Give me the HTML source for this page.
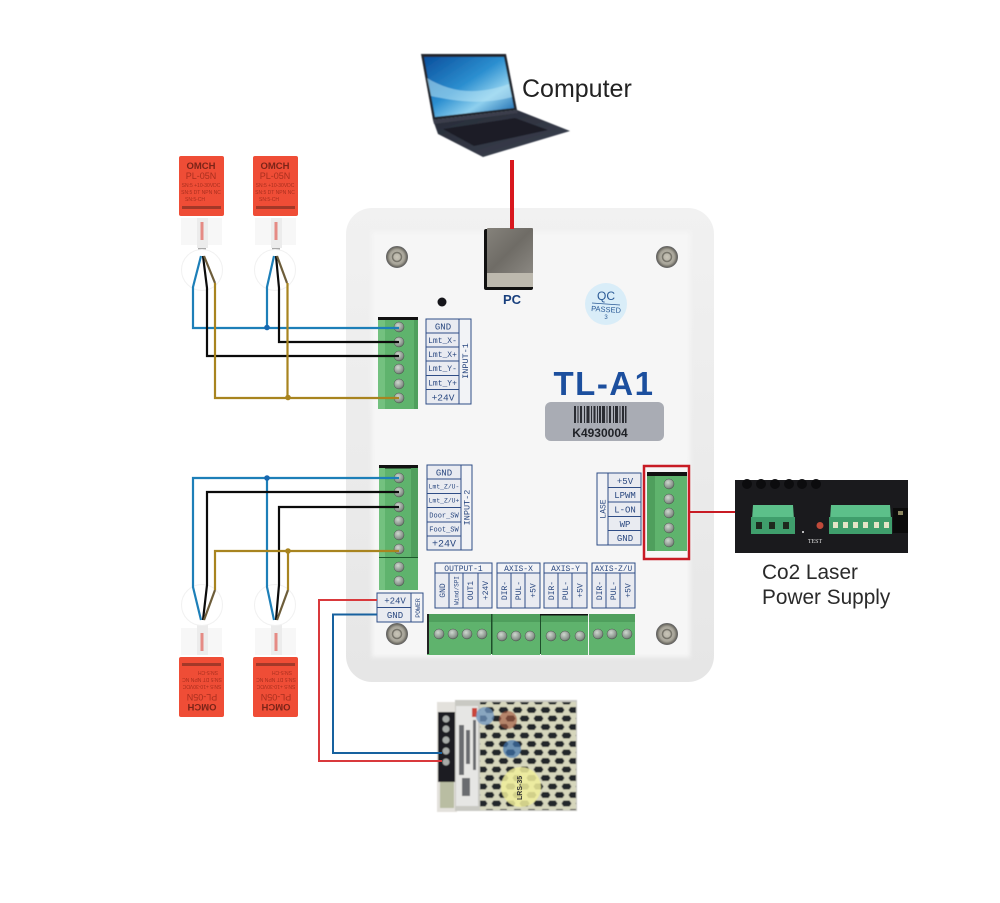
<!DOCTYPE html>
<html><head><meta charset="utf-8"><style>
html,body{margin:0;padding:0;background:#fff}
svg{display:block}
text{font-family:"Liberation Sans",sans-serif}
.m{font-family:"Liberation Mono",monospace;fill:#2a4880;font-size:8px;text-anchor:middle}
.s{font-size:6.400px}
.cell{fill:#e9ebf1;stroke:#2f4d86;stroke-width:1}
.hd{fill:#f2f3f6}
.sn{fill:#a82f1e;text-anchor:middle}
</style></head><body>
<svg width="1000" height="903" viewBox="0 0 1000 903" xmlns="http://www.w3.org/2000/svg">
<defs>
<linearGradient id="scr" x1="0" y1="0" x2="1" y2="1"><stop offset="0" stop-color="#0a4f9c"/><stop offset=".45" stop-color="#2c8fd0"/><stop offset=".7" stop-color="#8fd0ee"/><stop offset="1" stop-color="#0e5fa8"/></linearGradient>
<linearGradient id="base" x1="0" y1="0" x2="1" y2="1"><stop offset="0" stop-color="#262a36"/><stop offset="1" stop-color="#3d4250"/></linearGradient>
<linearGradient id="brd" x1="0" y1="0" x2="0" y2="1"><stop offset="0" stop-color="#f1f1f1"/><stop offset="1" stop-color="#e6e6e6"/></linearGradient>
<linearGradient id="usb" x1="0" y1="0" x2="1" y2="1"><stop offset="0" stop-color="#85827b"/><stop offset=".5" stop-color="#6f6c66"/><stop offset="1" stop-color="#8b8882"/></linearGradient>
<pattern id="hex" width="14" height="17" patternUnits="userSpaceOnUse">
<rect width="14" height="17" fill="#d6d6bc"/>
<path d="M3.500 1.500h6l2 3-2 3h-6l-2-3z" fill="#23262a"/>
<path d="M10.500 10h6l2 3-2 3h-6l-2-3z" fill="#23262a"/>
<path d="M-3.500 10h6l2 3-2 3h-6l-2-3z" fill="#23262a"/>
</pattern>
<radialGradient id="sc" cx=".4" cy=".35" r=".75"><stop offset="0" stop-color="#cfd8cf"/><stop offset=".7" stop-color="#87928a"/><stop offset="1" stop-color="#4c564f"/></radialGradient>
<radialGradient id="bolt" cx=".5" cy=".5" r=".5"><stop offset="0" stop-color="#c9c5b8"/><stop offset=".7" stop-color="#a7a499"/><stop offset="1" stop-color="#5f5d55"/></radialGradient>
<filter id="soft"><feGaussianBlur stdDeviation=".4"/></filter>
<filter id="b2" x="-5%" y="-5%" width="110%" height="110%"><feGaussianBlur stdDeviation="2"/></filter>
</defs>

<!-- Laptop -->
<g filter="url(#soft)">
<polygon points="433,120 517,110 570,131 483,157 438,134" fill="url(#base)"/>
<polygon points="443,129 515,118 548,130 474,146" fill="#1b1e26"/>
<polygon points="421,54 506,54 517,110 433,120" fill="#23262f"/>
<polygon points="424,57 504,57 514,108 435,117" fill="url(#scr)"/>
<path d="M427,78 C450,92 475,96 509,84 L512,97 C480,106 450,100 431,96z" fill="#b9e6f6" opacity=".55"/>
<path d="M433,120 L517,110 L518,113 L434,124z" fill="#3a3e4b"/>
</g>
<text x="522" y="97" font-size="25" fill="#222">Computer</text>

<!-- Board -->
<rect x="346" y="208" width="368" height="474" rx="26" fill="url(#brd)"/>
<rect x="372" y="232" width="318" height="425" fill="#f6f6f6" filter="url(#b2)"/>

<!-- USB -->
<rect x="484" y="229" width="49" height="61" rx="2" fill="#111"/>
<rect x="487" y="228" width="46" height="46" rx="1" fill="url(#usb)"/>
<rect x="487" y="273" width="46" height="14" fill="#bdb9ae"/>
<rect x="510" y="160" width="4" height="69" fill="#d8171e"/>
<text x="512" y="304" font-size="13" font-weight="bold" text-anchor="middle" fill="#183f7d">PC</text>
<circle cx="442" cy="302" r="4.500" fill="#15151a"/>

<!-- QC -->
<circle cx="606" cy="304" r="21" fill="#d9edf8"/>
<text x="606" y="300" font-size="12" text-anchor="middle" fill="#2a5a96">QC</text>
<line x1="592" y1="303" x2="620" y2="305" stroke="#2a5a96" stroke-width=".8"/>
<text x="606" y="312" font-size="7.500" text-anchor="middle" fill="#2a5a96" transform="rotate(4 606 310)">PASSED</text>
<text x="606" y="319" font-size="6" text-anchor="middle" fill="#2a5a96">3</text>

<!-- Bolts -->
<g stroke="#666"><circle cx="397" cy="257" r="10.500" fill="url(#bolt)"/><circle cx="667" cy="257" r="10.500" fill="url(#bolt)"/><circle cx="397" cy="634" r="10.500" fill="url(#bolt)"/><circle cx="667" cy="634" r="10.500" fill="url(#bolt)"/></g>
<g fill="none" stroke="#77756b" stroke-width="1.500"><circle cx="397" cy="257" r="4.500"/><circle cx="667" cy="257" r="4.500"/><circle cx="397" cy="634" r="4.500"/><circle cx="667" cy="634" r="4.500"/></g>

<!-- TL-A1 -->
<text x="604" y="395" font-size="33" font-weight="bold" text-anchor="middle" fill="#1c4f9e" letter-spacing="1.500">TL-A1</text>
<rect x="545" y="402" width="119" height="39" rx="6" fill="#a9acb4"/>
<g fill="#2a2c32"><rect x="574" y="406" width="2" height="17"/><rect x="577.500" y="406" width="1" height="17"/><rect x="580" y="406" width="2" height="17"/><rect x="584" y="406" width="1" height="17"/><rect x="586.500" y="406" width="3" height="17"/><rect x="591" y="406" width="1" height="17"/><rect x="593.500" y="406" width="2" height="17"/><rect x="597" y="406" width="1" height="17"/><rect x="599" y="406" width="2" height="17"/><rect x="602" y="406" width="3" height="17"/><rect x="606.500" y="406" width="1" height="17"/><rect x="609" y="406" width="2" height="17"/><rect x="613" y="406" width="1" height="17"/><rect x="615" y="406" width="3" height="17"/><rect x="619.500" y="406" width="1" height="17"/><rect x="622" y="406" width="2" height="17"/><rect x="625" y="406" width="1.500" height="17"/></g>
<text x="600" y="437" font-size="12" font-weight="bold" text-anchor="middle" fill="#1f2126">K4930004</text>

<!-- Block 1 -->
<rect x="378" y="317" width="40" height="92" fill="#5fb36d"/>
<rect x="378" y="317" width="40" height="3" fill="#111"/>
<rect x="378" y="320" width="7" height="89" fill="#73c17f"/>
<rect x="414" y="320" width="4" height="89" fill="#4f9f5d"/>
<g fill="url(#sc)" stroke="#4a544c" stroke-width=".5"><circle cx="399" cy="327" r="5"/><circle cx="399" cy="342" r="5"/><circle cx="399" cy="356" r="5"/><circle cx="399" cy="369" r="5"/><circle cx="399" cy="384" r="5"/><circle cx="399" cy="398" r="5"/></g>

<!-- Input-1 table -->
<g>
<rect class="cell" x="426" y="319" width="33" height="14"/><rect class="cell" x="426" y="333" width="33" height="14"/><rect class="cell" x="426" y="347" width="33" height="14"/><rect class="cell" x="426" y="361" width="33" height="14.500"/><rect class="cell" x="426" y="375.500" width="33" height="14"/><rect class="cell" x="426" y="389.500" width="33" height="14.500"/><rect class="cell hd" x="459" y="319" width="12" height="85"/>
<text class="m" x="443" y="329.500" style="font-size:9px">GND</text><text class="m" x="442.500" y="343">Lmt_X-</text><text class="m" x="442.500" y="357">Lmt_X+</text><text class="m" x="442.500" y="371">Lmt_Y-</text><text class="m" x="442.500" y="385.500">Lmt_Y+</text><text class="m" x="443" y="400.500" style="font-size:9.500px">+24V</text>
<text class="m" transform="translate(468,361) rotate(-90)" style="font-size:8.500px">INPUT-1</text>
</g>

<!-- Block 2 -->
<rect x="379" y="465" width="39" height="125" fill="#5fb36d"/>
<rect x="379" y="465" width="39" height="3.500" fill="#111"/>
<rect x="379" y="468" width="6" height="122" fill="#73c17f"/>
<rect x="411" y="468" width="7" height="90" fill="#4f9f5d"/>
<rect x="379" y="557" width="39" height="1" fill="#1d5a2c"/>
<g fill="url(#sc)" stroke="#4a544c" stroke-width=".5"><circle cx="399" cy="478" r="5"/><circle cx="399" cy="492" r="5"/><circle cx="399" cy="507" r="5"/><circle cx="399" cy="521" r="5"/><circle cx="399" cy="535" r="5"/><circle cx="399" cy="549" r="5"/><circle cx="399" cy="567" r="5"/><circle cx="399" cy="581" r="5"/></g>

<!-- Input-2 table -->
<g>
<rect class="cell" x="427" y="465" width="34" height="14"/><rect class="cell" x="427" y="479" width="34" height="14.500"/><rect class="cell" x="427" y="493.500" width="34" height="14"/><rect class="cell" x="427" y="507.500" width="34" height="14.500"/><rect class="cell" x="427" y="522" width="34" height="14"/><rect class="cell" x="427" y="536" width="34" height="14"/><rect class="cell hd" x="461" y="465" width="11" height="85"/>
<text class="m" x="444" y="475.500" style="font-size:9px">GND</text><text class="m s" x="444" y="488.500">Lmt_Z/U-</text><text class="m s" x="444" y="502.500">Lmt_Z/U+</text><text class="m" x="444" y="517.500" style="font-size:7px">Door_SW</text><text class="m" x="444" y="531.500" style="font-size:7px">Foot_SW</text><text class="m" x="444" y="546.500" style="font-size:10px">+24V</text>
<text class="m" transform="translate(469.500,507.500) rotate(-90)" style="font-size:8.500px">INPUT-2</text>
</g>

<!-- Power table -->
<g>
<rect class="cell" x="377" y="593" width="34" height="14.500"/><rect class="cell" x="377" y="607.500" width="34" height="14.500"/><rect class="cell hd" x="411" y="593" width="12" height="29"/>
<text class="m" x="395" y="603.500" style="font-size:9px">+24V</text><text class="m" x="395" y="618" style="font-size:9px">GND</text>
<text class="m" transform="translate(420,608) rotate(-90)" style="font-size:6.500px">POWER</text>
</g>

<!-- LASE table -->
<g>
<rect class="cell hd" x="597" y="473" width="11" height="72"/>
<rect class="cell" x="608" y="473" width="33" height="14.500"/><rect class="cell" x="608" y="487.500" width="33" height="14.500"/><rect class="cell" x="608" y="502" width="33" height="14.500"/><rect class="cell" x="608" y="516.500" width="33" height="14"/><rect class="cell" x="608" y="530.500" width="33" height="14.500"/>
<text class="m" x="625" y="484" style="font-size:9px">+5V</text><text class="m" x="625" y="498" style="font-size:9px">LPWM</text><text class="m" x="625" y="512.500" style="font-size:9px">L-ON</text><text class="m" x="625" y="527" style="font-size:9px">WP</text><text class="m" x="625" y="541" style="font-size:9px">GND</text>
<text class="m" transform="translate(605.500,509) rotate(-90)">LASE</text>
</g>

<!-- Laser block + red box -->
<rect x="647" y="472" width="40" height="79" fill="#5fb36d"/>
<rect x="647" y="472" width="40" height="4" fill="#111"/>
<rect x="647" y="476" width="8" height="75" fill="#4f9f5d"/>
<g fill="url(#sc)" stroke="#4a544c" stroke-width=".5"><circle cx="669" cy="484" r="5"/><circle cx="669" cy="499" r="5"/><circle cx="669" cy="513" r="5"/><circle cx="669" cy="528" r="5"/><circle cx="669" cy="542" r="5"/></g>
<rect x="644" y="466" width="45" height="93" fill="none" stroke="#c81b24" stroke-width="2.500"/>
<rect x="689" y="511" width="46" height="2" fill="#c81b24"/>

<!-- Output tables -->
<g>
<rect class="cell hd" x="435" y="563" width="57" height="10"/><rect class="cell hd" x="497" y="563" width="43" height="10"/><rect class="cell hd" x="544" y="563" width="43" height="10"/><rect class="cell hd" x="592" y="563" width="43" height="10"/>
<rect class="cell" x="435" y="573" width="14" height="35"/><rect class="cell" x="449" y="573" width="14" height="35"/><rect class="cell" x="463" y="573" width="15" height="35"/><rect class="cell" x="478" y="573" width="14" height="35"/>
<rect class="cell" x="497" y="573" width="14" height="35"/><rect class="cell" x="511" y="573" width="14" height="35"/><rect class="cell" x="525" y="573" width="15" height="35"/>
<rect class="cell" x="544" y="573" width="14" height="35"/><rect class="cell" x="558" y="573" width="14" height="35"/><rect class="cell" x="572" y="573" width="15" height="35"/>
<rect class="cell" x="592" y="573" width="14" height="35"/><rect class="cell" x="606" y="573" width="14" height="35"/><rect class="cell" x="620" y="573" width="15" height="35"/>
<text class="m" x="463.500" y="571">OUTPUT-1</text><text class="m" x="518.500" y="571">AXIS-X</text><text class="m" x="565.500" y="571">AXIS-Y</text><text class="m" x="613.500" y="571" style="font-size:7.800px">AXIS-Z/U</text>
<text class="m" transform="translate(445,590.500) rotate(-90)">GND</text>
<text class="m" transform="translate(458.500,590.500) rotate(-90)" style="font-size:6px">Wind/SPI</text>
<text class="m" transform="translate(473,590.500) rotate(-90)">OUT1</text>
<text class="m" transform="translate(488,590.500) rotate(-90)">+24V</text>
<text class="m" transform="translate(507,590.500) rotate(-90)">DIR-</text>
<text class="m" transform="translate(521,590.500) rotate(-90)">PUL-</text>
<text class="m" transform="translate(535.500,590.500) rotate(-90)">+5V</text>
<text class="m" transform="translate(554,590.500) rotate(-90)">DIR-</text>
<text class="m" transform="translate(568,590.500) rotate(-90)">PUL-</text>
<text class="m" transform="translate(582.500,590.500) rotate(-90)">+5V</text>
<text class="m" transform="translate(602,590.500) rotate(-90)">DIR-</text>
<text class="m" transform="translate(616,590.500) rotate(-90)">PUL-</text>
<text class="m" transform="translate(630.500,590.500) rotate(-90)">+5V</text>
</g>

<!-- Bottom blocks -->
<g>
<rect x="427" y="614" width="64" height="41" fill="#5fb36d"/><rect x="492" y="614" width="48" height="41" fill="#5fb36d"/><rect x="541" y="614" width="47" height="41" fill="#5fb36d"/><rect x="589" y="614" width="46" height="41" fill="#5fb36d"/>
<rect x="427" y="614" width="64" height="8" fill="#4f9f5d"/><rect x="492" y="614" width="48" height="8" fill="#4f9f5d"/><rect x="541" y="614" width="47" height="8" fill="#4f9f5d"/><rect x="589" y="614" width="46" height="8" fill="#4f9f5d"/>
<rect x="427" y="614" width="2" height="40" fill="#222"/>
<rect x="491" y="614" width="1.500" height="40" fill="#1e4d2a"/><rect x="540" y="614" width="1" height="40" fill="#1e4d2a"/>
<rect x="540" y="614" width="48" height="1.500" fill="#111"/>
<g fill="url(#sc)" stroke="#4a544c" stroke-width=".5"><circle cx="439" cy="634" r="5"/><circle cx="453" cy="634" r="5"/><circle cx="467" cy="634" r="5"/><circle cx="482" cy="634" r="5"/><circle cx="502" cy="636" r="5"/><circle cx="516" cy="636" r="5"/><circle cx="530" cy="636" r="5"/><circle cx="551" cy="636" r="5"/><circle cx="565" cy="636" r="5"/><circle cx="580" cy="636" r="5"/><circle cx="598" cy="634" r="5"/><circle cx="612" cy="634" r="5"/><circle cx="627" cy="634" r="5"/></g>
</g>

<!-- Top sensors -->
<g>
<rect x="179" y="156" width="45" height="60" rx="2" fill="#ef4d36"/>
<rect x="181" y="218" width="41" height="27" fill="#f7f7f7"/><rect x="197" y="218" width="11" height="30" fill="#ececec"/><rect x="200.500" y="222" width="3" height="18" fill="#e58a84"/>
<rect x="198" y="248" width="8" height="8" fill="#a8a8a8"/>
<circle cx="202" cy="270" r="20.500" fill="#fff" stroke="#f1f1f1"/>
<text class="sn" x="201" y="169" font-size="9.500" font-weight="bold" style="fill:#7b2418">OMCH</text><text class="sn" x="201" y="179" font-size="9">PL-05N</text>
<text class="sn" x="201" y="187" font-size="5">SN:5 +10-30VDC</text><text class="sn" x="201" y="194" font-size="5">SN:5 DT NPN NC</text><text class="sn" x="195" y="201" font-size="5">SN:5-CH</text><rect x="182" y="206" width="39" height="3" fill="#a33828"/>
</g>
<g>
<rect x="253" y="156" width="45" height="60" rx="2" fill="#ef4d36"/>
<rect x="255" y="218" width="41" height="27" fill="#f7f7f7"/><rect x="271" y="218" width="11" height="30" fill="#ececec"/><rect x="274.500" y="222" width="3" height="18" fill="#e58a84"/>
<rect x="272" y="248" width="8" height="8" fill="#a8a8a8"/>
<circle cx="275" cy="270" r="20.500" fill="#fff" stroke="#f1f1f1"/>
<text class="sn" x="275" y="169" font-size="9.500" font-weight="bold" style="fill:#7b2418">OMCH</text><text class="sn" x="275" y="179" font-size="9">PL-05N</text>
<text class="sn" x="275" y="187" font-size="5">SN:5 +10-30VDC</text><text class="sn" x="275" y="194" font-size="5">SN:5 DT NPN NC</text><text class="sn" x="269" y="201" font-size="5">SN:5-CH</text><rect x="256" y="206" width="39" height="3" fill="#a33828"/>
</g>

<!-- Bottom sensors -->
<g>
<rect x="179" y="657" width="45" height="60" rx="2" fill="#ef4d36"/>
<rect x="181" y="628" width="41" height="27" fill="#f7f7f7"/><rect x="197" y="625" width="11" height="30" fill="#ececec"/><rect x="200.500" y="633" width="3" height="18" fill="#e58a84"/>
<rect x="198" y="617" width="8" height="8" fill="#a8a8a8"/>
<circle cx="202" cy="605" r="20.500" fill="#fff" stroke="#f1f1f1"/>
<g transform="rotate(180 201.500 686.500)"><text class="sn" x="201" y="669" font-size="9.500" font-weight="bold" style="fill:#7b2418">OMCH</text><text class="sn" x="201" y="679" font-size="9">PL-05N</text><text class="sn" x="201" y="688" font-size="5">SN:5 +10-30VDC</text><text class="sn" x="201" y="695" font-size="5">SN:5 DT NPN NC</text><text class="sn" x="195" y="702" font-size="5">SN:5-CH</text><rect x="182" y="707" width="39" height="3" fill="#a33828"/></g>
</g>
<g>
<rect x="253" y="657" width="45" height="60" rx="2" fill="#ef4d36"/>
<rect x="255" y="628" width="41" height="27" fill="#f7f7f7"/><rect x="271" y="625" width="11" height="30" fill="#ececec"/><rect x="274.500" y="633" width="3" height="18" fill="#e58a84"/>
<rect x="272" y="617" width="8" height="8" fill="#a8a8a8"/>
<circle cx="275" cy="605" r="20.500" fill="#fff" stroke="#f1f1f1"/>
<g transform="rotate(180 275.500 686.500)"><text class="sn" x="275" y="669" font-size="9.500" font-weight="bold" style="fill:#7b2418">OMCH</text><text class="sn" x="275" y="679" font-size="9">PL-05N</text><text class="sn" x="275" y="688" font-size="5">SN:5 +10-30VDC</text><text class="sn" x="275" y="695" font-size="5">SN:5 DT NPN NC</text><text class="sn" x="269" y="702" font-size="5">SN:5-CH</text><rect x="256" y="707" width="39" height="3" fill="#a33828"/></g>
</g>

<!-- Sensor wires -->
<g fill="none" stroke-width="2.200">
<path d="M201 256 L193 287 V328 H399" stroke="#1d7fb8"/>
<path d="M274 256 L267 287 V328" stroke="#1d7fb8"/>
<path d="M203 256 L207 288 V356 H399" stroke="#0b0b0b"/>
<path d="M276 256 L279 288 V342 H399" stroke="#0b0b0b"/>
<path d="M204 256 L215 283" stroke="#6d5d3a"/>
<path d="M277 256 L287 283" stroke="#6d5d3a"/>
<path d="M215 283 V398 H399 M287.500 283 V398" stroke="#a8841f"/>

<path d="M201 620 L193 587 V478 H399" stroke="#1d7fb8"/>
<path d="M274 620 L267 587 V478" stroke="#1d7fb8"/>
<path d="M203 620 L207 585 V492 H399" stroke="#0b0b0b"/>
<path d="M276 620 L279 585 V507 H399" stroke="#0b0b0b"/>
<path d="M204 620 L215 590" stroke="#6d5d3a"/>
<path d="M277 620 L288 590" stroke="#6d5d3a"/>
<path d="M215 590 V551 H399 M288 590 V551" stroke="#a8841f"/>
</g>
<circle cx="267" cy="327.500" r="2.800" fill="#1668b0"/>
<circle cx="288" cy="397.500" r="2.800" fill="#a8841f"/>
<circle cx="267" cy="478" r="2.800" fill="#1668b0"/>
<circle cx="288" cy="551" r="2.800" fill="#a8841f"/>

<!-- PSU -->
<g filter="url(#soft)">
<rect x="437" y="702" width="20" height="110" fill="#e3e1dc"/>
<rect x="438" y="712" width="17" height="70" fill="#1d1e20"/>
<g fill="#a8aca9"><circle cx="446" cy="719" r="3.500"/><circle cx="446" cy="729" r="3.500"/><circle cx="446" cy="740" r="3.500"/><circle cx="446" cy="751" r="3.500"/><circle cx="446" cy="762" r="3.500"/></g>
<rect x="440" y="782" width="14" height="26" fill="#b9bda2"/>
<rect x="455" y="700" width="122" height="111" fill="#c9c9c3"/>
<rect x="480" y="702" width="96" height="108" fill="url(#hex)"/>
<rect x="456" y="706" width="22" height="100" fill="#e6e6e4"/>
<g fill="#6a6c6f"><rect x="459" y="725" width="5" height="50"/><rect x="466" y="730" width="4" height="34"/><rect x="473" y="720" width="3" height="50"/><rect x="462" y="778" width="8" height="18"/></g>
<rect x="472" y="708" width="5" height="9" fill="#c9443a"/>
<circle cx="485" cy="716" r="9" fill="#6f96c0" opacity=".75"/>
<circle cx="508" cy="720" r="9" fill="#a3583f" opacity=".65"/>
<circle cx="512" cy="749" r="9" fill="#3f74ae" opacity=".7"/>
<circle cx="521" cy="787" r="20" fill="#f0ee9b" opacity=".85"/>
</g>
<text font-size="7" font-weight="bold" fill="#333" transform="translate(522,800) rotate(-90)">LRS-35</text>

<path d="M377 600 H319 V761 H442" fill="none" stroke="#d9393c" stroke-width="2"/>
<path d="M377 614.500 H333 V753 H442" fill="none" stroke="#17619f" stroke-width="2"/>

<!-- Laser power supply -->
<rect x="735" y="480" width="173" height="73" fill="#1a1a1d"/>
<g fill="#0c0c0e"><circle cx="747" cy="484" r="5"/><circle cx="761" cy="484" r="5"/><circle cx="775" cy="484" r="5"/><circle cx="789" cy="484" r="5"/><circle cx="802" cy="484" r="5"/><circle cx="816" cy="484" r="5"/></g>
<polygon points="753,505 793,505 795,534 751,534" fill="#5cc08a"/>
<rect x="751" y="517" width="44" height="17" fill="#3f9e6c"/>
<g fill="#1e2a1e"><rect x="756" y="522" width="6" height="7"/><rect x="769" y="522" width="6" height="7"/><rect x="783" y="522" width="6" height="7"/></g>
<polygon points="831,505 890,505 892,534 829,534" fill="#5cc08a"/>
<rect x="829" y="517" width="63" height="17" fill="#3f9e6c"/>
<g fill="#e5e5c8"><rect x="833" y="522" width="5" height="6"/><rect x="843" y="522" width="5" height="6"/><rect x="853" y="522" width="5" height="6"/><rect x="863" y="522" width="5" height="6"/><rect x="874" y="522" width="5" height="6"/><rect x="884" y="522" width="5" height="6"/></g>
<circle cx="820" cy="525.500" r="3.500" fill="#c04a3a"/>
<rect x="893" y="508" width="15" height="25" fill="#0b0b0b"/>
<rect x="898" y="511" width="5" height="4" fill="#8b8560"/>
<circle cx="803" cy="532" r="1" fill="#eee"/>
<text x="815" y="543" font-size="6" fill="#ddd" text-anchor="middle" style="font-family:'Liberation Serif',serif">TEST</text>
<text x="762" y="579" font-size="20.800" fill="#2a2a2a">Co2 Laser</text>
<text x="762" y="604" font-size="20.800" fill="#2a2a2a">Power Supply</text>
</svg>
</body></html>
